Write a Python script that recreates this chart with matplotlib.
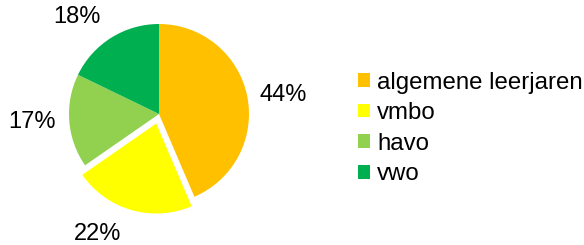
import numpy as np
import matplotlib
matplotlib.use("Agg")
import matplotlib.pyplot as plt

plt.rcParams['font.family'] = ['Liberation Sans', 'DejaVu Sans']

# data
categories = ["algemene leerjaren", "vmbo", "havo", "vwo"]
values = [44, 22, 17, 18]
colors = ["#FFC000", "#FFFF00", "#92D050", "#00B050"]
explode = [0, 0.11, 0, 0]

# label placement (Excel "best fit" style): distance from centre, angle shift in degrees
label_dist = [1.39, 1.50, 1.41, 1.41]
label_shift = [-3, -11, -1, 8]

W, H = 584, 245
fig = plt.figure(figsize=(W / 100, H / 100), dpi=100)

# pie centred at (159, 114) px with radius 90 px
cx, cy, r = 159, 114, 90
ax = fig.add_axes([(cx - r) / W, (H - cy - r) / H, 2 * r / W, 2 * r / H])
wedges, texts, autotexts = ax.pie(
    values, colors=colors, explode=explode, startangle=90, counterclock=False,
    autopct=lambda p: "%d%%" % round(p), pctdistance=1.4,
    textprops={"fontsize": 17, "color": "black"},
    wedgeprops={"linewidth": 0})

# move the percentage labels round the pie
for w, t, d, s in zip(wedges, autotexts, label_dist, label_shift):
    ang = np.deg2rad((w.theta1 + w.theta2) / 2 + s)
    t.set_position((d * np.cos(ang), d * np.sin(ang)))

ax.set_xlim(-1, 1)
ax.set_ylim(-1, 1)
ax.set_aspect("equal")
ax.axis("off")

fig.legend(wedges, categories, loc="center left",
           bbox_to_anchor=(358 / W, 1 - 128.5 / H),
           frameon=False, fontsize=17.3, handlelength=0.5, handleheight=0.5,
           handletextpad=0.3, labelspacing=0.36, borderaxespad=0, borderpad=0)

fig.savefig("out.png", dpi=100)
